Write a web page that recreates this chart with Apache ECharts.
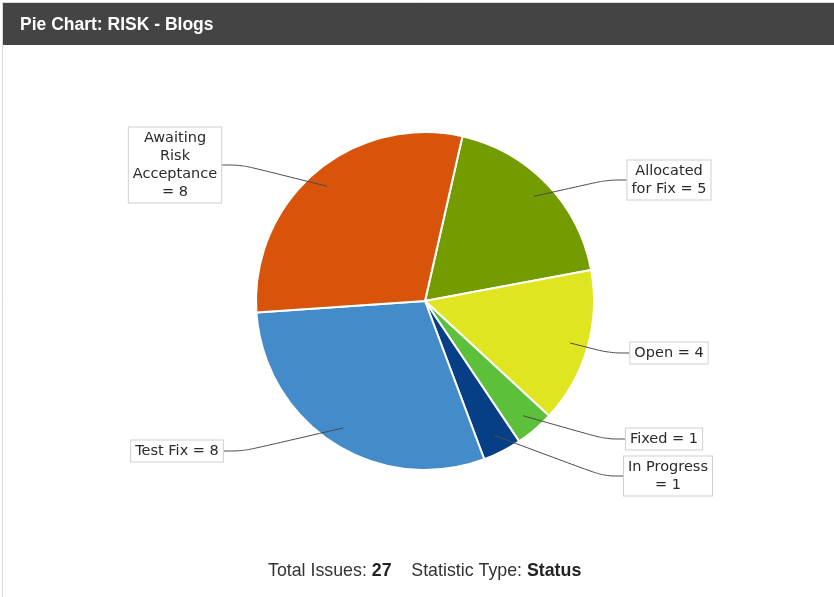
<!DOCTYPE html>
<html><head><meta charset="utf-8">
<script src="https://cdn.jsdelivr.net/npm/echarts@6/dist/echarts.min.js"></script>
<style>html,body{margin:0;padding:0;background:#fff;}#c{width:834px;height:597px;}</style>
</head><body><div id="c"></div>
<script>
var categories = ['Allocated for Fix', 'Open', 'Fixed', 'In Progress', 'Test Fix', 'Awaiting Risk Acceptance'];
var values = [5, 4, 1, 1, 8, 8];
var labelTexts = ['Allocated\nfor Fix = 5', 'Open = 4', 'Fixed = 1', 'In Progress\n= 1', 'Test Fix = 8', 'Awaiting\nRisk\nAcceptance\n= 8'];
var colors = ['#749C00', '#DFE51E', '#5CC03A', '#063F86', '#448BC9', '#D9540B'];
var totalIssues = 27;
var statisticType = 'Status';
var chartTitle = 'Pie Chart: RISK - Blogs';

// layout only
var pieCenter = [425, 301];
var labelPos = [[669, 180], [669, 353], [664, 439], [668, 476], [177, 451], [175, 165]];

var pieData = categories.map(function (c, i) { return { name: c, value: values[i] }; });

var chart = echarts.init(document.getElementById('c'));
chart.setOption({
  animation: false,
  graphic: [
    { type: 'rect', shape: { x: 2.5, y: 2.5, width: 840, height: 600 }, style: { fill: '#fff', stroke: '#d8d8d8', lineWidth: 1 }, z: -10 },
    { type: 'rect', shape: { x: 3, y: 3, width: 840, height: 42 }, style: { fill: '#444444' }, z: -5 },
    { type: 'text', left: 20, top: 16, style: { text: chartTitle, fill: '#ffffff', font: 'bold 17.5px "Liberation Sans", Arial, sans-serif' } }
  ],
  title: {
    text: '{n|Total Issues: }{b|' + totalIssues + '}{n|    Statistic Type: }{b|' + statisticType + '}',
    left: 263, top: 557,
    textStyle: {
      fontWeight: 'normal',
      rich: {
        n: { fontFamily: '"Liberation Sans", Arial, sans-serif', fontSize: 17.8, fontWeight: 'normal', color: '#333' },
        b: { fontFamily: '"Liberation Sans", Arial, sans-serif', fontSize: 17.8, fontWeight: 'bold', color: '#222' }
      }
    }
  },
  series: [{
    type: 'pie',
    center: pieCenter,
    radius: 169,
    startAngle: 77.2,
    clockwise: true,
    color: colors,
    itemStyle: { borderColor: '#ffffff', borderWidth: 2 },
    label: { show: false },
    labelLine: { show: false },
    emphasis: { disabled: true },
    silent: true,
    z: 2,
    data: pieData
  }, {
    type: 'pie',
    center: pieCenter,
    radius: 151,
    startAngle: 77.2,
    clockwise: true,
    itemStyle: { color: 'rgba(0,0,0,0)', borderWidth: 0 },
    label: {
      show: true,
      formatter: function (p) { return labelTexts[p.dataIndex]; },
      fontFamily: '"DejaVu Sans", sans-serif',
      fontSize: 14.5,
      lineHeight: 18,
      color: '#2a2a2a',
      backgroundColor: '#ffffff',
      borderColor: '#cfcfcf',
      borderWidth: 1,
      padding: [2, 4, 1, 4],
      align: 'center'
    },
    labelLine: { show: true, smooth: 0.35, length: 20, length2: 20, lineStyle: { color: '#4a4a4a', width: 1 } },
    labelLayout: function (p) {
      var pos = labelPos[p.dataIndex];
      return { x: pos[0], y: pos[1], align: 'center', verticalAlign: 'middle' };
    },
    emphasis: { disabled: true },
    silent: true,
    z: 3,
    data: pieData
  }]
});
</script></body></html>
